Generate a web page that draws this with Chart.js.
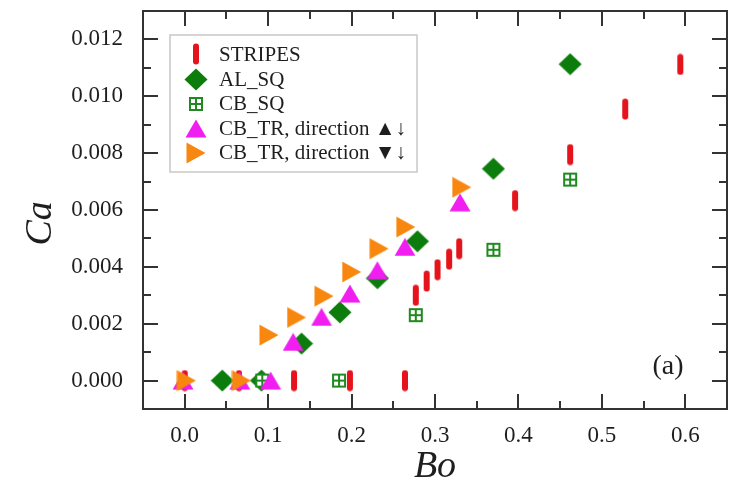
<!DOCTYPE html>
<html>
<head>
<meta charset="utf-8">
<script src="https://cdn.jsdelivr.net/npm/chart.js@4.4.1/dist/chart.umd.min.js"></script>
<style>
  html, body { margin: 0; padding: 0; background: #ffffff; }
  #wrap { width: 738px; height: 495px; }
</style>
</head>
<body>
<div id="wrap"><canvas id="c" width="738" height="495"></canvas></div>
<script>
// ---- data ----
const xTicks = [0.0, 0.1, 0.2, 0.3, 0.4, 0.5, 0.6];
const yTicks = [0.000, 0.002, 0.004, 0.006, 0.008, 0.010, 0.012];

const seriesNames = ['STRIPES', 'AL_SQ', 'CB_SQ', 'CB_TR, direction \u25B2\u2193', 'CB_TR, direction \u25BC\u2193'];

const stripesBo = [0.000, 0.065, 0.131, 0.198, 0.264, 0.277, 0.290, 0.303, 0.317, 0.329, 0.396, 0.462, 0.528, 0.594];
const stripesCa = [0, 0, 0, 0, 0, 0.0030, 0.0035, 0.0039, 0.00427, 0.00464, 0.00633, 0.00795, 0.00955, 0.01112];

const alSqBo = [0.045, 0.092, 0.140, 0.186, 0.231, 0.279, 0.370, 0.462];
const alSqCa = [0, 0, 0.0013, 0.0024, 0.0036, 0.0049, 0.00745, 0.01113];

const cbSqBo = [0.093, 0.185, 0.277, 0.370, 0.462];
const cbSqCa = [0, 0, 0.0023, 0.0046, 0.00707];

const cbTrUpBo = [-0.002, 0.066, 0.103, 0.130, 0.164, 0.198, 0.231, 0.264, 0.330];
const cbTrUpCa = [0, 0, 0, 0.00136, 0.00224, 0.00306, 0.00388, 0.0047, 0.00627];

const cbTrDnBo = [0.002, 0.068, 0.101, 0.134, 0.167, 0.200, 0.233, 0.265, 0.332];
const cbTrDnCa = [0, 0, 0.0016, 0.00222, 0.00297, 0.00382, 0.00464, 0.0054, 0.0068];

// ---- marker images ----
function mk(w, h, draw) {
  const c = document.createElement('canvas');
  c.width = w; c.height = h;
  draw(c.getContext('2d'), w, h);
  return c;
}
const RED = '#e5131c', GREEN = '#0c7d0c', GREEN2 = '#1f8a1f', MAGENTA = '#f01ef0', ORANGE = '#f7870f';

const stripeImg = mk(8, 22, (g, w, h) => {
  g.fillStyle = RED;
  const x = 1, y = 0.5, ww = 6, hh = 21, r = 3;
  g.beginPath();
  g.moveTo(x + r, y);
  g.arcTo(x + ww, y, x + ww, y + hh, r);
  g.arcTo(x + ww, y + hh, x, y + hh, r);
  g.arcTo(x, y + hh, x, y, r);
  g.arcTo(x, y, x + ww, y, r);
  g.closePath();
  g.fill();
});
const diamondImg = mk(24, 23, (g, w, h) => {
  g.fillStyle = GREEN;
  g.beginPath();
  g.moveTo(12, 0.5); g.lineTo(23.5, 11.5); g.lineTo(12, 22.5); g.lineTo(0.5, 11.5);
  g.closePath(); g.fill();
});
const squareImg = mk(16, 16, (g, w, h) => {
  g.fillStyle = '#ffffff';
  g.fillRect(1, 1, 14, 14);
  g.strokeStyle = GREEN2; g.lineWidth = 2;
  g.strokeRect(2, 2, 12, 12);
  g.beginPath();
  g.moveTo(8, 2); g.lineTo(8, 14);
  g.moveTo(2, 8); g.lineTo(14, 8);
  g.stroke();
});
const triUpImg = mk(22, 19, (g, w, h) => {
  g.fillStyle = MAGENTA;
  g.beginPath();
  g.moveTo(11, 0.5); g.lineTo(21.5, 18.5); g.lineTo(0.5, 18.5);
  g.closePath(); g.fill();
});
const triRightImg = mk(20, 22, (g, w, h) => {
  g.fillStyle = ORANGE;
  g.beginPath();
  g.moveTo(0.5, 0.5); g.lineTo(19.5, 11); g.lineTo(0.5, 21.5);
  g.closePath(); g.fill();
});

function pts(xs, ys) { return xs.map((x, i) => ({ x: x, y: ys[i] })); }

const markerImgs = [stripeImg, diamondImg, squareImg, triUpImg, triRightImg];

const FONT = "'Liberation Serif', 'Times New Roman', serif";
const INK = '#1e1e1e';

// frame, inward ticks, legend and panel label
const decorPlugin = {
  id: 'decor',
  afterDatasetsDraw(chart) {
    const g = chart.ctx, a = chart.chartArea;
    const xs = chart.scales.x, ys = chart.scales.y;
    g.save();
    g.strokeStyle = '#333333';
    g.lineWidth = 2;
    g.lineCap = 'butt';
    const MAJ = 15, MIN = 8;
    g.beginPath();
    for (let k = -1; k <= 13; k++) {
      const v = k * 0.05;
      if (v <= xs.min + 1e-9 || v >= xs.max - 1e-9) continue;
      const px = Math.round(xs.getPixelForValue(v));
      const len = (k % 2 === 0) ? MAJ : MIN;
      g.moveTo(px, a.bottom); g.lineTo(px, a.bottom - len);
      g.moveTo(px, a.top); g.lineTo(px, a.top + len);
    }
    for (let k = -1; k <= 13; k++) {
      const v = k * 0.001;
      if (v <= ys.min + 1e-9 || v >= ys.max - 1e-9) continue;
      const py = Math.round(ys.getPixelForValue(v));
      const len = (k % 2 === 0) ? MAJ : MIN;
      g.moveTo(a.left, py); g.lineTo(a.left + len, py);
      g.moveTo(a.right, py); g.lineTo(a.right - len, py);
    }
    g.stroke();
    g.strokeRect(a.left, a.top, a.right - a.left, a.bottom - a.top);

    // legend
    const L = 170, T = 35, W = 247, H = 137;
    g.fillStyle = '#ffffff';
    g.fillRect(L, T, W, H);
    g.strokeStyle = '#c8c8c8';
    g.lineWidth = 1.5;
    g.strokeRect(L, T, W, H);
    const rowY = [54, 79, 103.5, 128, 152.5];
    g.font = '21px ' + FONT;
    g.fillStyle = INK;
    g.textBaseline = 'middle';
    g.textAlign = 'left';
    chart.data.datasets.forEach((ds, i) => {
      const img = markerImgs[i];
      g.drawImage(img, Math.round(196 - img.width / 2), Math.round(rowY[i] - img.height / 2));
      g.fillText(ds.label, 219, rowY[i] + 1);
    });

    // panel label
    g.font = '28px ' + FONT;
    g.textAlign = 'center';
    g.fillText('(a)', 668, 367);
    g.restore();
  }
};

new Chart(document.getElementById('c'), {
  type: 'scatter',
  data: {
    datasets: [
      { label: seriesNames[0], data: pts(stripesBo, stripesCa), pointStyle: stripeImg, order: 5 },
      { label: seriesNames[1], data: pts(alSqBo, alSqCa), pointStyle: diamondImg, order: 4 },
      { label: seriesNames[2], data: pts(cbSqBo, cbSqCa), pointStyle: squareImg, order: 3 },
      { label: seriesNames[3], data: pts(cbTrUpBo, cbTrUpCa), pointStyle: triUpImg, order: 2 },
      { label: seriesNames[4], data: pts(cbTrDnBo, cbTrDnCa), pointStyle: triRightImg, order: 1 }
    ]
  },
  options: {
    responsive: false,
    animation: false,
    devicePixelRatio: 1,
    layout: { padding: { left: 0, right: 5, top: 10, bottom: 0 } },
    plugins: { legend: { display: false }, tooltip: { enabled: false } },
    elements: { point: { radius: 10, hoverRadius: 10 } },
    scales: {
      x: {
        type: 'linear', min: -0.05, max: 0.65,
        grid: { display: false, drawTicks: false },
        border: { display: false },
        afterBuildTicks: s => { s.ticks = xTicks.map(v => ({ value: v })); },
        afterFit: s => { s.height = 86; s.paddingLeft = 0; s.paddingRight = 0; },
        ticks: {
          callback: v => Number(v).toFixed(1),
          font: { family: FONT, size: 23 }, color: INK,
          padding: 13, maxRotation: 0, autoSkip: false
        },
        title: {
          display: true, text: 'Bo', color: INK,
          font: { family: FONT, size: 38, style: 'italic' },
          padding: { top: 0, bottom: 5 }
        }
      },
      y: {
        type: 'linear', min: -0.001, max: 0.013,
        grid: { display: false, drawTicks: false },
        border: { display: false },
        afterBuildTicks: s => { s.ticks = yTicks.map(v => ({ value: v })); },
        afterFit: s => { s.width = 143; s.paddingTop = 0; s.paddingBottom = 0; },
        ticks: {
          callback: v => Number(v).toFixed(3),
          font: { family: FONT, size: 23 }, color: INK,
          padding: 20, autoSkip: false
        },
        title: {
          display: true, text: 'Ca\u2002\u2009', color: INK,
          font: { family: FONT, size: 38, style: 'italic' },
          padding: { top: 18, bottom: 0 }
        }
      }
    }
  },
  plugins: [decorPlugin]
});
</script>
</body>
</html>
